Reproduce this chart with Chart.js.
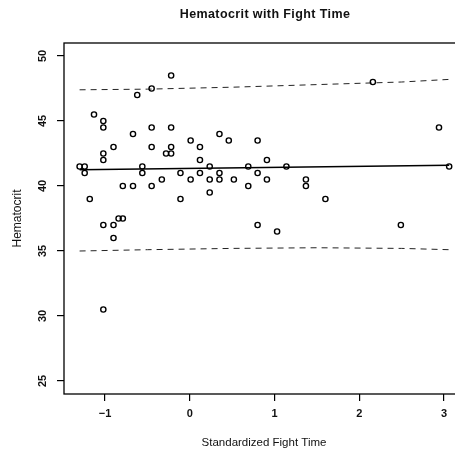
<!DOCTYPE html>
<html>
<head>
<meta charset="utf-8">
<script src="https://cdn.jsdelivr.net/npm/chart.js@4/dist/chart.umd.min.js"></script>
<style>
  html, body { margin: 0; padding: 0; background: #fff; overflow: hidden; }
  #wrap { width: 475px; height: 453px; }
</style>
</head>
<body>
<div id="wrap"><canvas id="hctChart"></canvas></div>
<script>
// standardized fight time vs hematocrit
const fightTime = [
  -1.30, -1.24, -1.24, -1.18, -1.13, -1.02, -1.02, -1.02, -1.02, -1.02, -1.02,
  -0.90, -0.90, -0.90, -0.84, -0.79, -0.79, -0.67, -0.67, -0.62, -0.56, -0.56,
  -0.45, -0.45, -0.45, -0.45, -0.33, -0.28, -0.22, -0.22, -0.22, -0.22, -0.11,
  -0.11, 0.01, 0.01, 0.12, 0.12, 0.12, 0.235, 0.235, 0.235, 0.35, 0.35, 0.35,
  0.46, 0.52, 0.69, 0.69, 0.80, 0.80, 0.80, 0.91, 0.91, 1.03, 1.14, 1.37, 1.37,
  1.60, 2.16, 2.49, 2.94, 3.06
];
const hematocrit = [
  41.5, 41.5, 41.0, 39.0, 45.5, 45.0, 44.5, 42.5, 42.0, 37.0, 30.5,
  43.0, 37.0, 36.0, 37.5, 37.5, 40.0, 40.0, 44.0, 47.0, 41.5, 41.0,
  47.5, 44.5, 43.0, 40.0, 40.5, 42.5, 48.5, 44.5, 43.0, 42.5, 41.0,
  39.0, 43.5, 40.5, 43.0, 42.0, 41.0, 41.5, 40.5, 39.5, 44.0, 41.0, 40.5,
  43.5, 40.5, 41.5, 40.0, 43.5, 41.0, 37.0, 42.0, 40.5, 36.5, 41.5, 40.5, 40.0,
  39.0, 48.0, 37.0, 44.5, 41.5
];

// fitted line and the dashed band around it
const fitX = [-1.30, 3.06];
const fitY = [41.25, 41.6];
const bandX = [-1.30, -0.5, 0.5, 1.5, 2.5, 3.06];
const bandUpper = [47.4, 47.45, 47.6, 47.8, 48.0, 48.2];
const bandLower = [35.0, 35.1, 35.2, 35.25, 35.2, 35.1];

const xTicks = [-1, 0, 1, 2, 3];
const yTicks = [25, 30, 35, 40, 45, 50];

const chartTitle = "Hematocrit with Fight Time";
const xTitle = "Standardized Fight Time";
const yTitle = "Hematocrit";

const FONT = "'Liberation Sans', Arial, Helvetica, sans-serif";

const toXY = (xs, ys) => xs.map((x, i) => ({ x: x, y: ys[i] }));

// box, rotated y labels and the main title, R style
const rStyle = {
  id: "rStyle",
  afterDraw(chart) {
    const { ctx, chartArea: a, scales } = chart;
    ctx.save();
    ctx.strokeStyle = "#000";
    ctx.lineWidth = 1.3;
    ctx.strokeRect(a.left, a.top, a.right - a.left, a.bottom - a.top);

    ctx.fillStyle = "#111";
    ctx.font = "bold 11px " + FONT;
    ctx.textAlign = "center";
    ctx.textBaseline = "middle";
    yTicks.forEach(v => {
      ctx.save();
      ctx.translate(43, scales.y.getPixelForValue(v));
      ctx.rotate(-Math.PI / 2);
      ctx.fillText(String(v), 0, 0);
      ctx.restore();
    });

    ctx.font = "bold 12.5px " + FONT;
    ctx.letterSpacing = "0.4px";
    ctx.fillText(chartTitle, (a.left + a.right) / 2 + 1, 15);
    ctx.restore();
  }
};

new Chart(document.getElementById("hctChart"), {
  type: "scatter",
  data: {
    datasets: [
      {
        data: toXY(fightTime, hematocrit),
        pointStyle: "circle",
        pointRadius: 2.6,
        pointBorderWidth: 1.4,
        pointBorderColor: "#000",
        pointBackgroundColor: "rgba(0,0,0,0)",
        showLine: false
      },
      {
        data: toXY(fitX, fitY),
        showLine: true,
        pointRadius: 0,
        borderColor: "#000",
        borderWidth: 1.4
      },
      {
        data: toXY(bandX, bandUpper),
        showLine: true,
        pointRadius: 0,
        borderColor: "#222",
        borderWidth: 1,
        borderDash: [6, 5]
      },
      {
        data: toXY(bandX, bandLower),
        showLine: true,
        pointRadius: 0,
        borderColor: "#222",
        borderWidth: 1,
        borderDash: [6, 5]
      }
    ]
  },
  options: {
    responsive: true,
    maintainAspectRatio: false,
    animation: false,
    layout: { padding: { top: 43, right: 11, bottom: 0, left: 0 } },
    plugins: {
      legend: { display: false },
      tooltip: { enabled: false }
    },
    scales: {
      x: {
        type: "linear",
        min: -1.484,
        max: 3.235,
        afterBuildTicks: s => { s.ticks = xTicks.map(v => ({ value: v })); },
        afterFit: s => { s.height = 59; },
        border: { display: false },
        grid: { drawOnChartArea: false, drawTicks: true, tickLength: 7, color: "#000", lineWidth: 1.2 },
        ticks: {
          color: "#111",
          padding: 6,
          maxRotation: 0,
          font: { family: FONT, size: 11, weight: "bold" },
          callback: v => (v < 0 ? "\u2212" + Math.abs(v) : String(v))
        },
        title: {
          display: true,
          text: xTitle,
          color: "#111",
          padding: { top: 0, bottom: 3.2 },
          font: { family: FONT, size: 11.5 }
        }
      },
      y: {
        type: "linear",
        min: 24,
        max: 51,
        afterBuildTicks: s => { s.ticks = yTicks.map(v => ({ value: v })); },
        afterFit: s => { s.width = 64; },
        border: { display: false },
        grid: { drawOnChartArea: false, drawTicks: true, tickLength: 7, color: "#000", lineWidth: 1.2 },
        ticks: { display: false },
        title: {
          display: true,
          text: yTitle,
          color: "#111",
          padding: { top: 10, bottom: 0 },
          font: { family: FONT, size: 12 }
        }
      }
    }
  },
  plugins: [rStyle]
});
</script>
</body>
</html>
